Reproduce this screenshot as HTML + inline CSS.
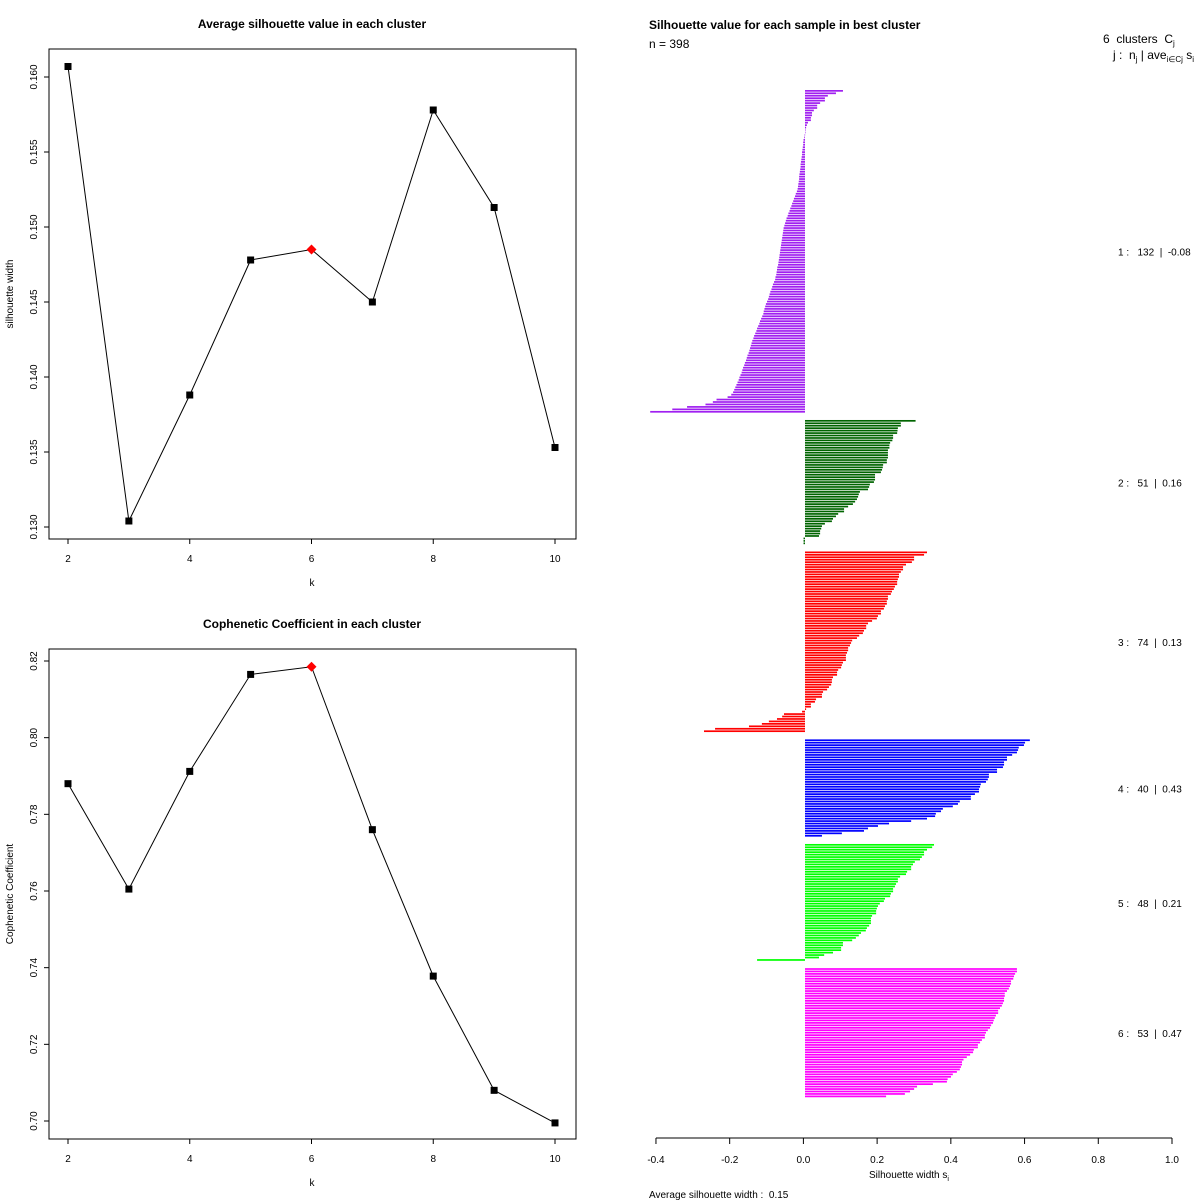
<!DOCTYPE html>
<html><head><meta charset="utf-8">
<style>
html,body{margin:0;padding:0;background:#fff;}
svg{display:block;font-family:"Liberation Sans",Arial,sans-serif;}
</style></head>
<body>
<svg id="root" width="1200" height="1200" viewBox="0 0 1200 1200"></svg>
<script>
// ---- data: top-left chart ----
const kValues = [2,3,4,5,6,7,8,9,10];
const silValues = [0.1607,0.1304,0.1388,0.1478,0.1485,0.1450,0.1578,0.1513,0.1353];
const silTicks = [0.130,0.135,0.140,0.145,0.150,0.155,0.160];
const silTickLabels = ["0.130","0.135","0.140","0.145","0.150","0.155","0.160"];
// ---- data: bottom-left chart ----
const copValues = [0.788,0.7605,0.7912,0.8165,0.8185,0.776,0.7378,0.708,0.6995];
const copTicks = [0.70,0.72,0.74,0.76,0.78,0.80,0.82];
const copTickLabels = ["0.70","0.72","0.74","0.76","0.78","0.80","0.82"];
const xTicks = [2,4,6,8,10];
const bestK = 6;
// ---- data: silhouette per sample ----
const clusterColors = ["#a020f0","#006400","#ff0000","#0000ff","#00ff00","#ff00ff"];
const clusterSizes = [132,51,74,40,48,53];
const clusterAvgs = ["-0.08","0.16","0.13","0.43","0.21","0.47"];
const sil1 = [0.103,0.084,0.062,0.054,0.054,0.041,0.033,0.033,0.024,0.019,0.019,0.016,0.016,0.008,0.005,
0.003,0.001,0,-0.001,-0.002,
-0.004,-0.005,-0.005,-0.006,-0.007,-0.008,-0.008,-0.009,-0.01,-0.011,-0.012,-0.012,-0.013,-0.014,-0.015,-0.016,-0.016,-0.017,-0.018,-0.019,
-0.02,-0.022,-0.025,-0.027,-0.03,-0.032,-0.035,-0.037,-0.04,-0.042,-0.045,-0.047,-0.05,-0.052,-0.054,-0.056,-0.058,
-0.059,-0.06,-0.061,-0.062,-0.063,-0.064,-0.065,-0.066,-0.067,-0.068,-0.069,-0.07,-0.071,-0.072,-0.073,-0.075,-0.076,-0.077,-0.078,-0.08,
-0.081,-0.084,-0.087,-0.089,-0.091,-0.094,-0.096,-0.098,-0.1,-0.103,-0.106,-0.108,-0.11,-0.112,
-0.113,-0.116,-0.119,-0.122,-0.124,-0.127,-0.13,-0.132,-0.135,-0.138,-0.14,-0.143,-0.145,
-0.147,-0.149,-0.151,-0.153,-0.156,-0.158,-0.16,-0.163,-0.165,-0.168,-0.17,
-0.172,-0.175,-0.178,-0.18,-0.183,-0.186,-0.189,-0.192,-0.195,
-0.2,-0.21,-0.24,-0.25,-0.27,-0.32,-0.36,-0.42];
const sil2 = [0.30,0.26,0.26,0.252,0.251,0.25,0.239,0.239,0.237,0.231,0.229,0.229,0.225,0.225,0.225,0.225,0.222,0.222,0.212,0.211,0.209,0.206,0.19,0.19,0.19,0.187,0.176,0.174,0.171,0.149,0.146,0.144,0.141,0.136,0.130,0.117,0.106,0.106,0.09,0.084,0.076,0.073,0.054,0.046,0.044,0.041,0.041,0.038,-0.004,-0.004,-0.004];
const sil3 = [0.331,0.323,0.296,0.296,0.29,0.274,0.266,0.266,0.26,0.255,0.255,0.252,0.25,0.25,0.244,0.241,0.236,0.233,0.225,0.225,0.222,0.222,0.217,0.214,0.206,0.206,0.198,0.195,0.182,0.171,0.166,0.166,0.16,0.157,0.147,0.141,0.128,0.125,0.122,0.117,0.117,0.114,0.111,0.111,0.111,0.103,0.10,0.098,0.09,0.087,0.087,0.076,0.073,0.073,0.071,0.065,0.06,0.049,0.046,0.046,0.03,0.027,0.016,0.016,0.003,
-0.008,-0.057,-0.062,-0.076,-0.098,-0.117,-0.152,-0.244,-0.274];
const sil4 = [0.61,0.597,0.594,0.58,0.578,0.575,0.562,0.548,0.548,0.54,0.54,0.537,0.521,0.521,0.499,0.499,0.496,0.491,0.477,0.475,0.472,0.472,0.461,0.45,0.45,0.42,0.415,0.401,0.374,0.369,0.355,0.353,0.331,0.288,0.228,0.198,0.171,0.16,0.10,0.046];
const sil5 = [0.35,0.345,0.331,0.323,0.323,0.317,0.312,0.298,0.293,0.288,0.288,0.277,0.274,0.258,0.252,0.252,0.247,0.244,0.239,0.239,0.233,0.231,0.217,0.214,0.203,0.198,0.195,0.193,0.193,0.182,0.179,0.179,0.179,0.174,0.168,0.165,0.152,0.146,0.138,0.128,0.103,0.103,0.098,0.098,0.076,0.052,0.038,-0.13];
const sil6 = [0.575,0.575,0.57,0.567,0.565,0.559,0.559,0.556,0.553,0.548,0.542,0.542,0.54,0.54,0.537,0.534,0.529,0.524,0.524,0.518,0.515,0.512,0.51,0.505,0.502,0.496,0.491,0.488,0.488,0.48,0.475,0.469,0.469,0.458,0.456,0.448,0.439,0.43,0.426,0.426,0.423,0.42,0.412,0.401,0.396,0.387,0.385,0.347,0.304,0.296,0.285,0.271,0.22];
const silTicksX = [-0.4,-0.2,0.0,0.2,0.4,0.6,0.8,1.0];
const silTickLabelsX = ["-0.4","-0.2","0.0","0.2","0.4","0.6","0.8","1.0"];

const NS = "http://www.w3.org/2000/svg";
const root = document.getElementById('root');
function mk(tag, attrs, parent, text){
  const e = document.createElementNS(NS, tag);
  for (const k in attrs) e.setAttribute(k, attrs[k]);
  if (text !== undefined) e.textContent = text;
  (parent || root).appendChild(e);
  return e;
}

function lineChart(opt){
  const g = mk('g', {});
  
  
  const L = 49, R = 576, T = opt.top, B = opt.bottom;
  const xS = k => 68 + (k - 2) * (555 - 68) / 8;
  const yS = v => opt.y0px + (v - opt.y0) * (opt.y1px - opt.y0px) / (opt.y1 - opt.y0);
  const box = mk('rect', {x:L, y:T, width:R-L, height:B-T, fill:'none', stroke:'#000', 'stroke-width':1}, g);
  
  
  const title = mk('text', {x:312, y:T-21, 'text-anchor':'middle', 'font-size':12, 'font-weight':'bold'}, g, opt.title);
  
  
  xTicks.forEach(k => {
    mk('line', {x1:xS(k), x2:xS(k), y1:B, y2:B+5, stroke:'#000'}, g);
    const t = mk('text', {x:xS(k), y:B+23, 'text-anchor':'middle', 'font-size':10}, g, String(k));
    
    
  });
  opt.ticks.forEach((v, i) => {
    const y = yS(v);
    mk('line', {x1:L-5, x2:L, y1:y, y2:y, stroke:'#000'}, g);
    const t = mk('text', {x:0, y:0, 'text-anchor':'middle', 'font-size':10, transform:`translate(37,${y}) rotate(-90)`}, g, opt.tickLabels[i]);
    
    
  });
  const xl = mk('text', {x:312, y:B+47, 'text-anchor':'middle', 'font-size':10}, g, 'k');
  
  
  const yl = mk('text', {x:0, y:0, 'text-anchor':'middle', 'font-size':10, transform:`translate(13,${(T+B)/2}) rotate(-90)`}, g, opt.ylabel);
  
  
  const pts = kValues.map((k, i) => xS(k) + ',' + yS(opt.values[i])).join(' ');
  const pl = mk('polyline', {points:pts, fill:'none', stroke:'#000', 'stroke-width':1}, g);
  
  
  kValues.forEach((k, i) => {
    const x = xS(k), y = yS(opt.values[i]);
    let m;
    if (k === bestK) {
      m = mk('polygon', {points:`${x},${y-5} ${x+5},${y} ${x},${y+5} ${x-5},${y}`, fill:'#ff0000'}, g);
      
    } else {
      m = mk('rect', {x:x-3.5, y:y-3.5, width:7, height:7, fill:'#000'}, g);
      
    }
    
  });
}

lineChart({name:'avg-silhouette-chart', title:'Average silhouette value in each cluster', top:49, bottom:539,
  values:silValues, ticks:silTicks, tickLabels:silTickLabels, y0:0.160, y0px:77, y1:0.130, y1px:527, ylabel:'silhouette width'});
lineChart({name:'cophenetic-chart', title:'Cophenetic Coefficient in each cluster', top:649, bottom:1139,
  values:copValues, ticks:copTicks, tickLabels:copTickLabels, y0:0.82, y0px:661, y1:0.70, y1px:1121, ylabel:'Cophenetic Coefficient'});

// ---- silhouette panel ----
(function(){
  const g = mk('g', {});
  
  
  const unit = 368.6;
  const axS = v => 803.4 + v * unit;
  const barS = v => 805 + v * unit;
  const rowH = 2.45, gap = 6.58, top0 = 90;
  const all = [sil1, sil2, sil3, sil4, sil5, sil6];
  let y = top0;
  const sp = '\u00a0';
  all.forEach((vals, ci) => {
    const start = y;
    vals.forEach(v => {
      const x0 = Math.min(barS(0), barS(v)), w = Math.abs(barS(v) - barS(0));
      const r = mk('rect', {x:x0, y:y, width:Math.max(w, 0.5), height:1.7, fill:clusterColors[ci]}, g);
      
      
      y += rowH;
    });
    const mid = (start + y) / 2;
    const lab = mk('text', {x:1118, y:mid + 4, 'font-size':10}, g,
      `${ci+1} :${sp}${sp}${sp}${clusterSizes[ci]}${sp}${sp}|${sp}${sp}${clusterAvgs[ci]}`);
    
    
    y += gap;
  });
  mk('line', {x1:axS(-0.4), x2:axS(1.0), y1:1138, y2:1138, stroke:'#000'}, g);
  silTicksX.forEach((v, i) => {
    mk('line', {x1:axS(v), x2:axS(v), y1:1138, y2:1144, stroke:'#000'}, g);
    const t = mk('text', {x:axS(v), y:1163, 'text-anchor':'middle', 'font-size':10}, g, silTickLabelsX[i]);
    
    
  });
  const xt = mk('text', {x:869, y:1178, 'font-size':10}, g);
  
  
  xt.innerHTML = 'Silhouette width s<tspan font-size="7" dy="3">i</tspan>';
  const av = mk('text', {x:649, y:1198, 'font-size':10}, g, 'Average silhouette width :\u00a0\u00a00.15');
  
  
  const tt = mk('text', {x:649, y:29, 'font-size':12, 'font-weight':'bold'}, g, 'Silhouette value for each sample in best cluster');
  
  
  const n = mk('text', {x:649, y:48, 'font-size':12}, g, 'n = 398');
  
  
  const h1 = mk('text', {x:1103, y:43, 'font-size':12}, g);
  
  
  h1.innerHTML = '6\u00a0 clusters\u00a0 C<tspan font-size="8" dy="3">j</tspan>';
  const h2 = mk('text', {x:1113, y:59, 'font-size':12}, g);
  
  
  h2.innerHTML = 'j :\u00a0 n<tspan font-size="8" dy="3">j</tspan><tspan dy="-3"> | ave</tspan><tspan font-size="8" dy="3">i∈Cj</tspan><tspan dy="-3"> s</tspan><tspan font-size="8" dy="3">i</tspan>';
})();
</script>
</body></html>
